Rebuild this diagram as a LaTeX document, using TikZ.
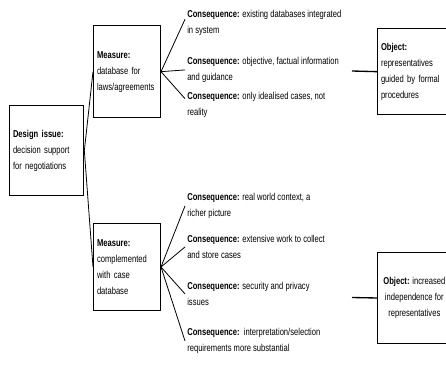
\documentclass[tikz,border=0pt]{standalone}
\usepackage{fontspec}
\setmainfont{Liberation Sans}[FakeStretch=0.76]
\usepackage{tikz}
\tikzstyle{every node}=[font=\fontsize{7.5pt}{12pt}\selectfont]
\tikzstyle{issuebox}=[draw,line width=1pt,anchor=north west,align=left,inner xsep=2.5pt,inner ysep=0pt]
\tikzstyle{cons}=[anchor=north west,align=left,inner xsep=1.5pt,inner ysep=0pt]
\tikzstyle{link}=[line width=0.6pt]

\begin{document}
\begin{tikzpicture}[x=0.75pt,y=-0.75pt]
        \useasboundingbox (0,0) rectangle (446,381);
        \clip (0,0) rectangle (446,381);

        \node [issuebox,text width=50.5pt,minimum height=67.5pt] (design) at (9,105)
            {\textbf{Design issue:}\\decision support\\for negotiations};
        \node [issuebox,text width=45pt,minimum height=69pt] (mdb) at (93,25)
            {\textbf{Measure:}\\database for\\laws/agreements};
        \node [issuebox,text width=45pt,minimum height=65pt] (mcase) at (93,223)
            {\textbf{Measure:}\\complemented\\with case\\database};
        \node [issuebox,text width=55pt,minimum height=64.5pt] (oformal) at (377,28)
            {\textbf{Object:}\\representatives\\guided by formal\\procedures};
        \node [issuebox,align=center,inner xsep=1.5pt,minimum width=55pt,minimum height=68pt] (oindep) at (377,252)
            {\textbf{Object:} increased\\independence for\\representatives};

        \node [cons] (c1) at (185,10) {\textbf{Consequence:} existing databases integrated\\in system};
        \node [cons] (c2) at (185,57) {\textbf{Consequence:} objective, factual information\\and guidance};
        \node [cons] (c3) at (185,92) {\textbf{Consequence:} only idealised cases, not\\reality};
        \node [cons] (c4) at (185,193) {\textbf{Consequence:} real world context, a\\richer picture};
        \node [cons] (c5) at (185,235) {\textbf{Consequence:} extensive work to collect\\and store cases};
        \node [cons] (c6) at (185,282) {\textbf{Consequence:} security and privacy\\issues};
        \node [cons] (c7) at (185,328) {\textbf{Consequence:}\ \ interpretation/selection\\requirements more substantial};

        \coordinate (lformal) at (352,71);
        \coordinate (lindep) at (352,297.5);

        \draw [link] (design.east) -- (mdb.west);
        \draw [link] (design.east) -- (mcase.west);

        \draw [link] (mdb.east) -- ([yshift=-7pt]c1.north west);
        \draw [link] (mdb.east) -- (c2.west);
        \draw [link] (mdb.east) -- ([yshift=-5pt]c3.north west);

        \draw [link] (mcase.east) -- (c4.west);
        \draw [link] (mcase.east) -- (c5.west);
        \draw [link] (mcase.east) -- (c6.west);
        \draw [link] (mcase.east) -- (c7.west);

        \draw [line width=1pt] (lformal) -- (oformal.west);
        \draw [line width=1pt] (lindep) -- (oindep.west);
    \end{tikzpicture}
\end{document}
